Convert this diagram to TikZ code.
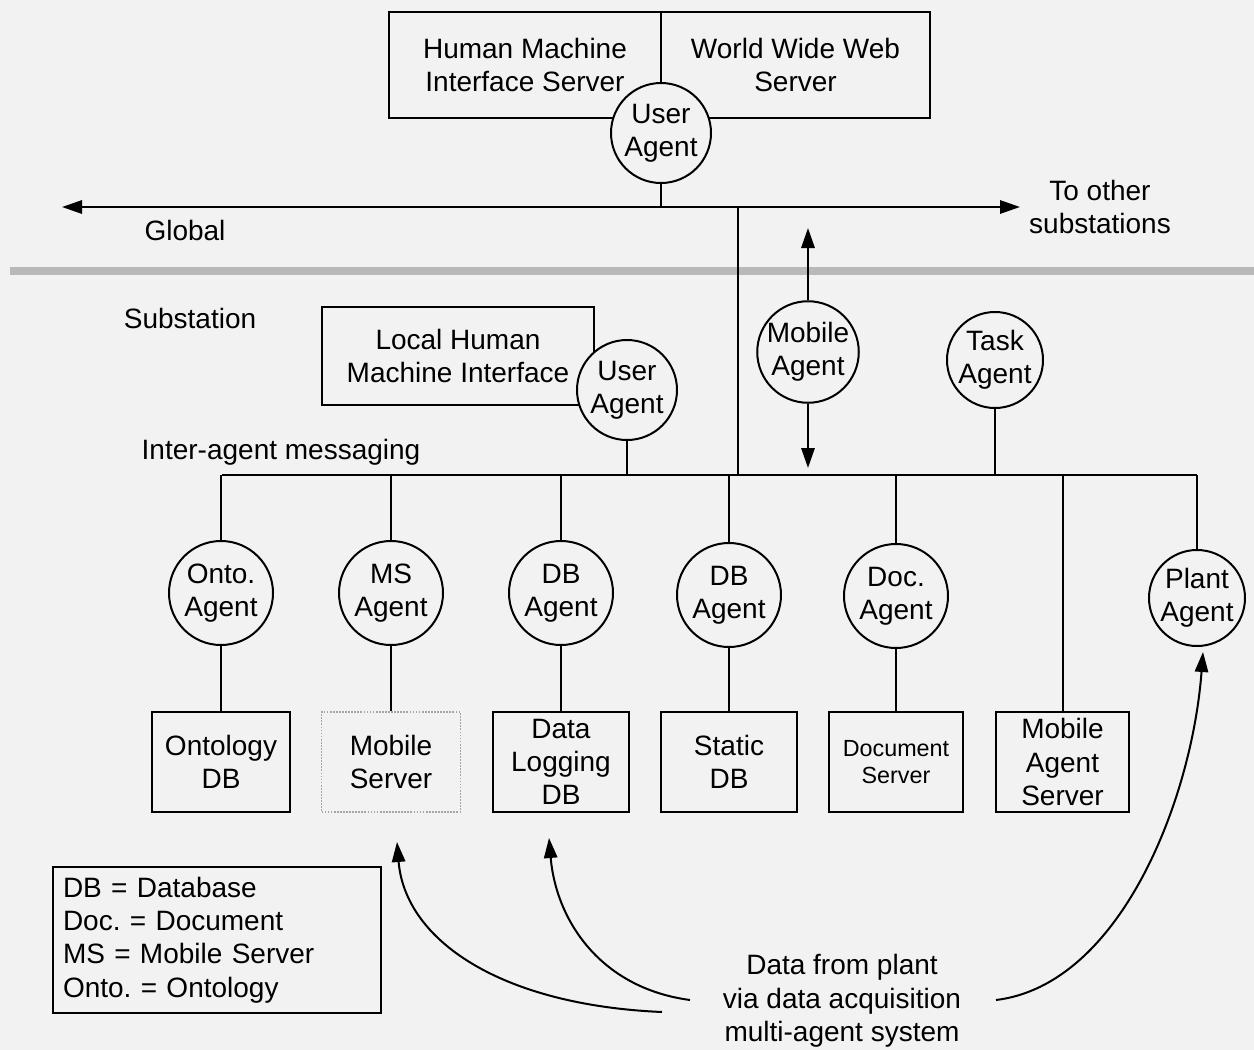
\documentclass[tikz,border=0pt]{standalone}
\usepackage{fontspec}
\setmainfont{Liberation Sans}
\usetikzlibrary{arrows.meta}
\definecolor{paper}{RGB}{242,242,242}
\frenchspacing
\begin{document}
\begin{tikzpicture}[x=0.75pt,y=-0.75pt,
  every node/.style={font=\fontsize{21}{25}\selectfont, align=center, inner sep=0pt},
  line/.style={line width=1.5pt},
  box/.style={draw, line width=1.5pt, fill=paper},
  agent/.style={draw, circle, line width=1.5pt, fill=paper, minimum size=#1},
  agent/.default=78pt,
  tip/.style={-{Triangle[length=15pt,width=10pt]}},
  arr/.style={line width=1.5pt, tip}
]
% page
\fill[paper] (0,0) rectangle (1254,1050);
\useasboundingbox (0,0) rectangle (1254,1050);

% ---- global level ----
\node[box, minimum width=204pt, minimum height=79.5pt] (hmi) at (525,65) {Human Machine\\Interface Server};
\node[box, minimum width=201.75pt, minimum height=79.5pt] (www) at (795.5,65) {World Wide Web\\Server};
\node[agent=75pt] (ua) at (661,133) {User\\Agent};

\coordinate (gl) at (62,207);
\coordinate (gr) at (1020,207);
\coordinate (ga) at (661,207);
\coordinate (gb) at (738,207);
\draw[line, {Triangle[length=15pt,width=10pt]}-{Triangle[length=15pt,width=10pt]}] (gl) -- (gr);
\draw[line] (ua.south) -- (ga);

\node (glob) at (185,230) {Global};
\node (other) at (1100,207) {To other\\substations};

% separator between global and substation levels
\coordinate (sepl) at (10,271);
\coordinate (sepr) at (1254,271);
\draw[gray!55, line width=6pt] (sepl) -- (sepr);

% ---- substation level ----
\node (sub) at (190,318) {Substation};
\node[box, minimum width=204pt, minimum height=73.5pt] (lhmi) at (458,356) {Local Human\\Machine Interface};
\node[agent=75pt] (ua2) at (627,390) {User\\Agent};
\node (msg) at (281,452) {Inter-agent messaging};

\coordinate (bus0) at (222,475);
\coordinate (bus1) at (1197,475);
\coordinate (busg) at (738,475);
\coordinate (busu) at (627,475);
\coordinate (bust) at (995,475);
\draw[line] (bus0) -- (bus1);
\draw[line] (gb) -- (busg);
\draw[line] (ua2.south) -- (busu);

% mobile agent moving between levels
\node[agent=72pt] (ma) at (808,352) {Mobile\\Agent};
\coordinate (maup) at (808,228);
\coordinate (madn) at (808,468);
\draw[arr] (ma.north) -- (maup);
\draw[arr] (ma.south) -- (madn);

\node[agent=72pt] (ta) at (995,360) {Task\\Agent};
\draw[line] (ta.south) -- (bust);

% ---- agents on the messaging bus ----
\node[agent] (onto) at (221,593) {Onto.\\Agent};
\node[agent] (msa)  at (391,593) {MS\\Agent};
\node[agent] (dba)  at (561,593) {DB\\Agent};
\node[agent] (dbb)  at (729,595) {DB\\Agent};
\node[agent] (doca) at (896,596) {Doc.\\Agent};
\node[agent=72pt] (plant) at (1197,598) {Plant\\Agent};

\foreach \a/\x in {onto/221, msa/391, dba/561, dbb/729, doca/896, plant/1197}
  \draw[line] (\x,475) -- (\a.north);

% ---- data stores ----
\node[box, minimum width=103.5pt, minimum height=75pt] (ontodb) at (221,762) {Ontology\\DB};
\node[draw=gray!70, densely dotted, line width=1.3pt, fill=paper, minimum width=104.25pt, minimum height=75pt] (mss) at (391,762) {Mobile\\Server};
\node[box, minimum width=102pt, minimum height=75pt] (dldb) at (561,762) {Data\\Logging\\DB};
\node[box, minimum width=102pt, minimum height=75pt] (sdb) at (729,762) {Static\\DB};
\node[box, minimum width=101pt, minimum height=75pt, font=\fontsize{17.5}{20.5}\selectfont] (docs) at (896,762) {Document\\Server};
\node[box, minimum width=100pt, minimum height=75pt] (mas) at (1062.5,762) {Mobile\\Agent\\Server};

\draw[line] (onto.south) -- (ontodb.north);
\draw[line] (msa.south) -- (mss.north);
\draw[line] (dba.south) -- (dldb.north);
\draw[line] (dbb.south) -- (sdb.north);
\draw[line] (doca.south) -- (docs.north);
\draw[line] (1062.5,475) -- (mas.north);

% ---- legend ----
\node[box, text width=231pt, inner sep=7.5pt, align=left, anchor=north west] (legend) at (52,866)
  {DB = Database\\Doc. = Document\\MS = Mobile Server\\Onto. = Ontology};

% ---- plant data feeds ----
\node (src) at (842,1001) {Data from plant\\via data acquisition\\multi-agent system};
\coordinate (c1s) at (662,1012);
\coordinate (c1e) at (397,842);
\coordinate (c2s) at (690,1000);
\coordinate (c2e) at (549,838);
\coordinate (c3s) at (996,1000);
\coordinate (c3e) at (1203,652);
\draw[arr] (c1s) .. controls (500,1005) and (405,940) .. (c1e);
\draw[arr] (c2s) .. controls (600,988) and (556,920) .. (c2e);
\draw[arr] (c3s) .. controls (1120,985) and (1192,800) .. (c3e);
\end{tikzpicture}
\end{document}
